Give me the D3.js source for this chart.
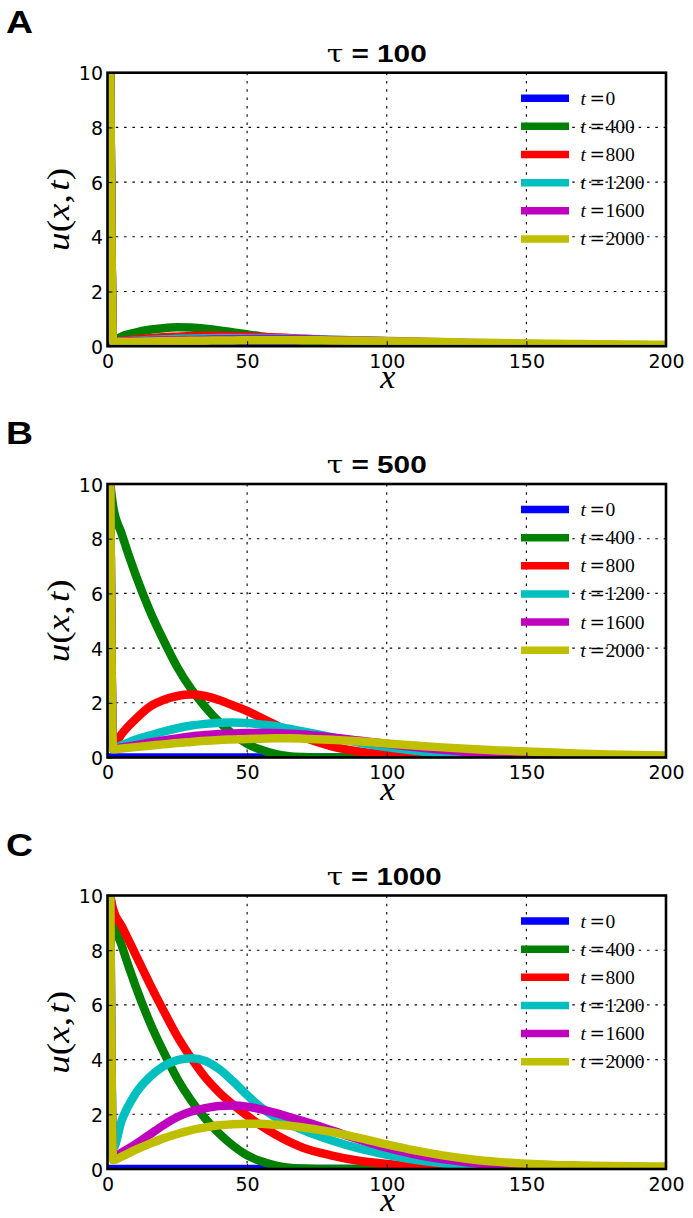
<!DOCTYPE html>
<html><head><meta charset="utf-8">
<script src="https://cdn.jsdelivr.net/npm/d3@7"></script>
<style>body{margin:0;background:#fff}svg{display:block}</style>
</head><body>
<script>
// ---- data ----
const xGrid = [1,2,5,10,15,20,25,30,35,40,45,50,55,60,65,70,80,90,100,110,120,130,140,150,160,170,180,190,200];
const timeLabels = ["0","400","800","1200","1600","2000"];
const seriesColors = ["#0000ff","#008000","#ff0000","#00bfbf","#bf00bf","#bfbf00"];
const panelLetters = ["A","B","C"];
const panelTaus = ["100","500","1000"];
const xTicks = [0,50,100,150,200];
const yTicks = [0,2,4,6,8,10];

const blueZero = [0,0,0,0,0,0,0,0,0,0,0,0,0,0,0,0,0,0,0,0,0,0,0,0,0,0,0,0,0];

// tau = 100
const greenA   = [10,0.18,0.35,0.5,0.6,0.66,0.69,0.68,0.64,0.58,0.5,0.43,0.36,0.3,0.25,0.2,0.13,0.08,0.05,0.03,0.02,0.01,0,0,0,0,0,0,0];
const redA     = [10,0.16,0.2,0.25,0.29,0.33,0.35,0.37,0.38,0.38,0.37,0.36,0.34,0.32,0.3,0.27,0.22,0.17,0.13,0.1,0.07,0.05,0.03,0.02,0.01,0.01,0,0,0];
const cyanA    = [10,0.15,0.17,0.2,0.23,0.25,0.27,0.28,0.29,0.3,0.3,0.3,0.3,0.29,0.28,0.27,0.24,0.21,0.18,0.15,0.12,0.09,0.07,0.05,0.04,0.03,0.02,0.01,0.01];
const magentaA = [10,0.15,0.16,0.18,0.2,0.21,0.22,0.23,0.24,0.25,0.25,0.26,0.26,0.26,0.25,0.25,0.23,0.21,0.19,0.17,0.14,0.12,0.1,0.08,0.07,0.05,0.04,0.03,0.03];
const yellowA  = [10,0.15,0.15,0.16,0.17,0.18,0.19,0.2,0.2,0.21,0.21,0.22,0.22,0.22,0.22,0.22,0.21,0.2,0.18,0.17,0.15,0.13,0.12,0.1,0.09,0.08,0.07,0.06,0.05];

// tau = 500
const greenB   = [10,9.2,8.2,6.7,5.4,4.3,3.3,2.5,1.85,1.3,0.85,0.5,0.28,0.13,0.05,0.02,0,0,0,0,0,0,0,0,0,0,0,0,0];
const redB     = [10,0.4,0.85,1.4,1.85,2.1,2.25,2.3,2.25,2.1,1.9,1.7,1.45,1.2,0.95,0.75,0.42,0.22,0.1,0.05,0.02,0.01,0,0,0,0,0,0,0];
const cyanB    = [10,0.32,0.45,0.65,0.8,0.95,1.07,1.17,1.23,1.27,1.28,1.26,1.21,1.15,1.05,0.95,0.75,0.55,0.38,0.25,0.15,0.08,0.04,0.02,0.01,0,0,0,0];
const magentaB = [10,0.31,0.37,0.45,0.54,0.62,0.7,0.77,0.82,0.86,0.88,0.9,0.9,0.9,0.87,0.84,0.74,0.62,0.5,0.38,0.28,0.19,0.12,0.08,0.05,0.03,0.02,0.01,0.01];
const yellowB  = [10,0.3,0.33,0.38,0.43,0.48,0.53,0.57,0.61,0.64,0.66,0.68,0.69,0.7,0.7,0.69,0.65,0.59,0.51,0.44,0.37,0.31,0.26,0.22,0.18,0.14,0.11,0.09,0.07];

// tau = 1000
const greenC   = [10,9.2,8.2,6.7,5.4,4.3,3.3,2.5,1.85,1.3,0.85,0.5,0.28,0.13,0.05,0.02,0,0,0,0,0,0,0,0,0,0,0,0,0];
const redC     = [10,9.5,8.9,7.85,6.8,5.8,4.85,4.05,3.35,2.8,2.35,1.95,1.58,1.27,1.0,0.78,0.5,0.3,0.18,0.1,0.05,0.02,0.01,0,0,0,0,0,0];
const cyanC    = [10,0.75,1.75,2.75,3.35,3.75,3.98,4.05,3.95,3.65,3.2,2.7,2.25,1.9,1.65,1.42,1.05,0.75,0.52,0.34,0.21,0.12,0.07,0.04,0.02,0.01,0,0,0];
const magentaC = [10,0.4,0.6,0.9,1.25,1.6,1.9,2.1,2.22,2.3,2.32,2.28,2.18,2.05,1.9,1.75,1.42,1.08,0.78,0.54,0.36,0.23,0.14,0.08,0.05,0.03,0.02,0.01,0.01];
const yellowC  = [10,0.32,0.45,0.7,0.92,1.12,1.28,1.42,1.52,1.6,1.64,1.65,1.65,1.62,1.58,1.52,1.36,1.14,0.9,0.68,0.5,0.36,0.26,0.19,0.15,0.13,0.11,0.1,0.09];

const panelSeries = [
  [blueZero, greenA, redA, cyanA, magentaA, yellowA],
  [blueZero, greenB, redB, cyanB, magentaB, yellowB],
  [blueZero, greenC, redC, cyanC, magentaC, yellowC]
];

// ---- layout ----
const W = 693, H = 1218;
const plotLeft = 107.5, plotRight = 666;
const panelTops = [72.7, 484, 895.5];
const plotH = 273.5;

const svg = d3.select("body").append("svg").attr("width", W).attr("height", H)
  .style("background", "#fff");

const x = d3.scaleLinear().domain([0, 200]).range([plotLeft, plotRight]);

panelSeries.forEach((series, pi) => {
  const top = panelTops[pi], bottom = top + plotH;
  const y = d3.scaleLinear().domain([0, 10]).range([bottom, top]);
  const g = svg.append("g");

  const clipId = "clip" + pi;
  svg.append("clipPath").attr("id", clipId).append("rect")
    .attr("x", plotLeft).attr("y", top).attr("width", plotRight - plotLeft).attr("height", plotH);

  // grid (dotted)
  const grid = g.append("g").attr("stroke", "#000").attr("stroke-width", 1.1)
    .attr("stroke-dasharray", "2.5,5.8");
  grid.selectAll("line.gx").data(xTicks.slice(1, -1)).join("line")
    .attr("x1", d => x(d)).attr("x2", d => x(d)).attr("y1", top).attr("y2", bottom);
  grid.selectAll("line.gy").data(yTicks.slice(1, -1)).join("line")
    .attr("y1", d => y(d)).attr("y2", d => y(d)).attr("x1", plotLeft).attr("x2", plotRight);

  // curves
  const line = d3.line().x((d, i) => x(xGrid[i])).y(d => y(d)).curve(d3.curveMonotoneX);
  const cg = g.append("g").attr("clip-path", `url(#${clipId})`);
  series.forEach((vals, si) => {
    cg.append("path").attr("d", line(vals)).attr("fill", "none")
      .attr("stroke", seriesColors[si]).attr("stroke-width", 8.5)
      .attr("stroke-linejoin", "round").attr("stroke-linecap", "square");
  });

  // axes with inward ticks
  const xAxis = d3.axisBottom(x).tickValues(xTicks).tickSize(-5).tickPadding(9);
  const yAxis = d3.axisLeft(y).tickValues(yTicks).tickSize(-5).tickPadding(9);
  const xa = g.append("g").attr("transform", `translate(0,${bottom})`).call(xAxis);
  const ya = g.append("g").attr("transform", `translate(${plotLeft},0)`).call(yAxis);
  [xa, ya].forEach(a => {
    a.select(".domain").remove();
    a.selectAll("line").attr("stroke", "#000").attr("stroke-width", 1);
    a.selectAll("text").attr("font-family", "DejaVu Sans, sans-serif").attr("font-size", 19).attr("fill", "#000");
  });
  xa.selectAll("text").attr("dy", null).attr("y", 14.5).attr("dominant-baseline", "central");
  ya.selectAll("text").attr("dy", null).attr("x", -4.5).attr("dominant-baseline", "central");

  // frame
  g.append("rect").attr("x", plotLeft).attr("y", top).attr("width", plotRight - plotLeft).attr("height", plotH)
    .attr("fill", "none").attr("stroke", "#000").attr("stroke-width", 2.6);

  // legend
  const lg = g.append("g");
  timeLabels.forEach((lab, i) => {
    const ly = top + 25.5 + i * 28.15;
    lg.append("line").attr("x1", 521).attr("x2", 569).attr("y1", ly).attr("y2", ly)
      .attr("stroke", seriesColors[i]).attr("stroke-width", 7.5);
    const t = lg.append("text").attr("x", 580.5).attr("y", ly + 6.5)
      .attr("font-family", "Liberation Serif, serif").attr("font-size", 19.5).attr("fill", "#000");
    t.append("tspan").attr("font-style", "italic").text("t");
    t.append("tspan").attr("dx", 3.5).attr("font-family", "DejaVu Serif, serif").attr("font-size", 18.5).text("=");
    t.append("tspan").attr("dx", 0.5).text(lab);
  });

  // title
  const tt = g.append("text").attr("x", 326.7).attr("y", top - 10.6)
    .attr("textLength", panelTaus[pi].length === 4 ? 115 : 100).attr("lengthAdjust", "spacingAndGlyphs")
    .attr("font-family", "Liberation Sans, Arial, sans-serif").attr("font-size", 23.5).attr("fill", "#000");
  tt.append("tspan").attr("font-family", "DejaVu Serif, serif").attr("font-weight", "normal").text("τ");
  tt.append("tspan").attr("font-weight", "bold").text(" = " + panelTaus[pi]);

  // panel letter
  g.append("text").attr("x", 6).attr("y", top - 40).attr("textLength", 27).attr("lengthAdjust", "spacingAndGlyphs")
    .attr("font-family", "Liberation Sans, Arial, sans-serif")
    .attr("font-weight", "bold").attr("font-size", 32).attr("fill", "#000").text(panelLetters[pi]);

  // axis labels
  g.append("text").attr("transform", `translate(58,${(top + bottom) / 2}) rotate(-90)`)
    .attr("text-anchor", "middle").attr("dominant-baseline", "central")
    .attr("textLength", 83).attr("lengthAdjust", "spacingAndGlyphs")
    .attr("font-family", "Liberation Serif, serif").attr("font-size", 31).attr("fill", "#000")
    .html('<tspan font-style="italic">u</tspan>(<tspan font-style="italic">x</tspan>,<tspan dx="3" font-style="italic">t</tspan>)');
  g.append("text").attr("x", (plotLeft + plotRight) / 2 + 1).attr("y", bottom + 42)
    .attr("text-anchor", "middle")
    .attr("font-family", "Liberation Serif, serif").attr("font-style", "italic").attr("font-size", 34).attr("fill", "#000")
    .text("x");
});
</script>
</body></html>
